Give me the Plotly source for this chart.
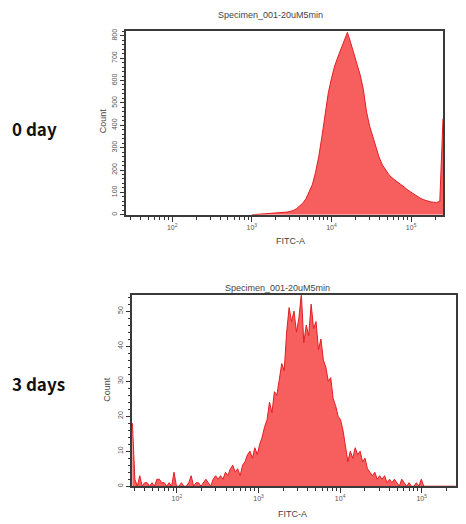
import numpy as np
import plotly.graph_objects as go

# ---------------- data ----------------
# Panel A ("0 day"): bin centres in log10(FITC-A), step 0.04 from 1.44
day0_log_start = 1.44
day0_log_step = 0.04
day0_counts = [0] * 40 + [
    1, 1, 2, 2, 3, 4, 5, 6, 8, 9,
    12, 15, 19, 27, 38, 52, 72, 100, 135, 190,
    260, 350, 460, 545, 610, 665, 705, 745, 785, 815,
    770, 720, 680, 625, 560, 460, 395, 345, 295, 255,
    222, 200, 180, 165, 155, 145, 133, 122, 110, 100,
    90, 80, 73, 67, 62, 58, 56, 55, 60, 430,
]

# Panel B ("3 days"): bin centres in log10(FITC-A), step 0.03 from 1.455
day3_log_start = 1.455
day3_log_step = 0.03
day3_counts = [
    18, 2, 0, 3, 0, 1, 1, 0, 1, 0,
    2, 2, 1, 1, 0, 1, 0, 4, 0, 0,
    1, 0, 0, 1, 3, 0, 1, 1, 0, 1,
    2, 1, 0, 2, 3, 2, 3, 2, 4, 3,
    5, 6, 4, 5, 3, 6, 7, 9, 10, 8,
    11, 9, 12, 14, 17, 19, 24, 21, 27, 26,
    30, 35, 33, 44, 51, 47, 50, 44, 48, 55,
    41, 46, 43, 52, 45, 47, 39, 42, 36, 34,
    30, 31, 25, 23, 20, 19, 16, 12, 7, 10,
    8, 11, 9, 10, 7, 8, 5, 4, 3, 4,
    2, 3, 2, 3, 1, 2, 1, 2, 1, 0,
    2, 1, 0, 1, 0, 0, 1, 0, 2, 0,
] + [0] * 13

x_tick_vals = [1e2, 1e3, 1e4, 1e5]
x_tick_text = ["10<sup>2</sup>", "10<sup>3</sup>", "10<sup>4</sup>", "10<sup>5</sup>"]
title_text = "Specimen_001-20uM5min"
x_title = "FITC-A"
y_title = "Count"
row_labels = ["0 day", "3 days"]

# ---------------- build ----------------
W, H = 466, 524
px = lambda x: x / W
py = lambda y: 1 - y / H

def centres(start, step, n):
    return 10 ** (start + step * np.arange(n))

x0 = centres(day0_log_start, day0_log_step, len(day0_counts))
x3 = centres(day3_log_start, day3_log_step, len(day3_counts))
c0 = np.array(day0_counts)
first = int(np.argmax(c0 > 0)) - 1   # start the outline where the events begin

FILL = "rgb(247,94,94)"
LINE = "rgb(226,30,36)"

fig = go.Figure()
fig.add_trace(go.Scatter(x=x0[first:], y=c0[first:], mode="lines", fill="tozeroy",
                         fillcolor=FILL, line=dict(color=LINE, width=1),
                         xaxis="x", yaxis="y", showlegend=False, hoverinfo="skip"))
fig.add_trace(go.Scatter(x=x3, y=day3_counts, mode="lines", fill="tozeroy",
                         fillcolor=FILL, line=dict(color=LINE, width=1),
                         xaxis="x2", yaxis="y2", showlegend=False, hoverinfo="skip"))

minor_vals = [m * 10 ** d for d in range(1, 6) for m in range(2, 10)]
tickfont = dict(size=7, color="#555", family="Liberation Sans")

def xaxis(rng, dom, anchor):
    return dict(type="log", range=rng, domain=dom, anchor=anchor,
                showline=True, mirror=True, linecolor="#3a3a3a", linewidth=1.5,
                ticks="outside", ticklen=5, tickwidth=1, tickcolor="#333",
                tickvals=x_tick_vals, ticktext=x_tick_text, tickfont=tickfont,
                showgrid=False, zeroline=False,
                minor=dict(tickvals=minor_vals, ticks="outside", ticklen=3,
                           tickcolor="#333", tickwidth=1, showgrid=False))

def yaxis(rng, dom, anchor, dtick, mdtick):
    return dict(range=rng, domain=dom, anchor=anchor,
                showline=True, mirror=True, linecolor="#3a3a3a", linewidth=1.5,
                ticks="outside", ticklen=4, tickwidth=1, tickcolor="#333",
                dtick=dtick, tickangle=-90, tickfont=tickfont,
                showgrid=False, zeroline=False,
                minor=dict(dtick=mdtick, ticks="outside", ticklen=2,
                           tickcolor="#333", tickwidth=1, showgrid=False))

fig.update_layout(
    width=W, height=H, margin=dict(l=0, r=0, t=0, b=0),
    paper_bgcolor="white", plot_bgcolor="white",
    xaxis=xaxis([1.42, 5.40], [px(126), px(443)], "y"),
    yaxis=yaxis([0, 822], [py(214), py(29)], "x", 100, 20),
    xaxis2=xaxis([1.45, 5.42], [px(132), px(456)], "y2"),
    yaxis2=yaxis([0, 54.5], [py(487), py(295)], "x2", 10, 2),
)

small = dict(family="Liberation Sans", size=9, color="#444")
ann = []
for (tx, ty), (fx, fy), (cx, cy) in [((270, 13), (290, 240), (103, 120)),
                                      ((277, 288), (292, 515), (107, 390))]:
    ann.append(dict(x=px(tx), y=py(ty), text=title_text, font=small))
    ann.append(dict(x=px(fx), y=py(fy), text=x_title, font=small))
    ann.append(dict(x=px(cx), y=py(cy), text=y_title, font=small, textangle=-90))
big = dict(family="Noto Sans CJK JP", size=17, color="#111")
ann.append(dict(x=px(10), y=py(127), text="<b>" + row_labels[0] + "</b>", font=big, xanchor="left"))
ann.append(dict(x=px(10), y=py(384), text="<b>" + row_labels[1] + "</b>", font=big, xanchor="left"))
for a in ann:
    a.update(xref="paper", yref="paper", showarrow=False)
    a.setdefault("xanchor", "center")
    a["yanchor"] = "middle"
fig.update_layout(annotations=ann)

fig.write_html("out.html", config={"displayModeBar": False},
               post_script="document.body.style.margin='0';")
